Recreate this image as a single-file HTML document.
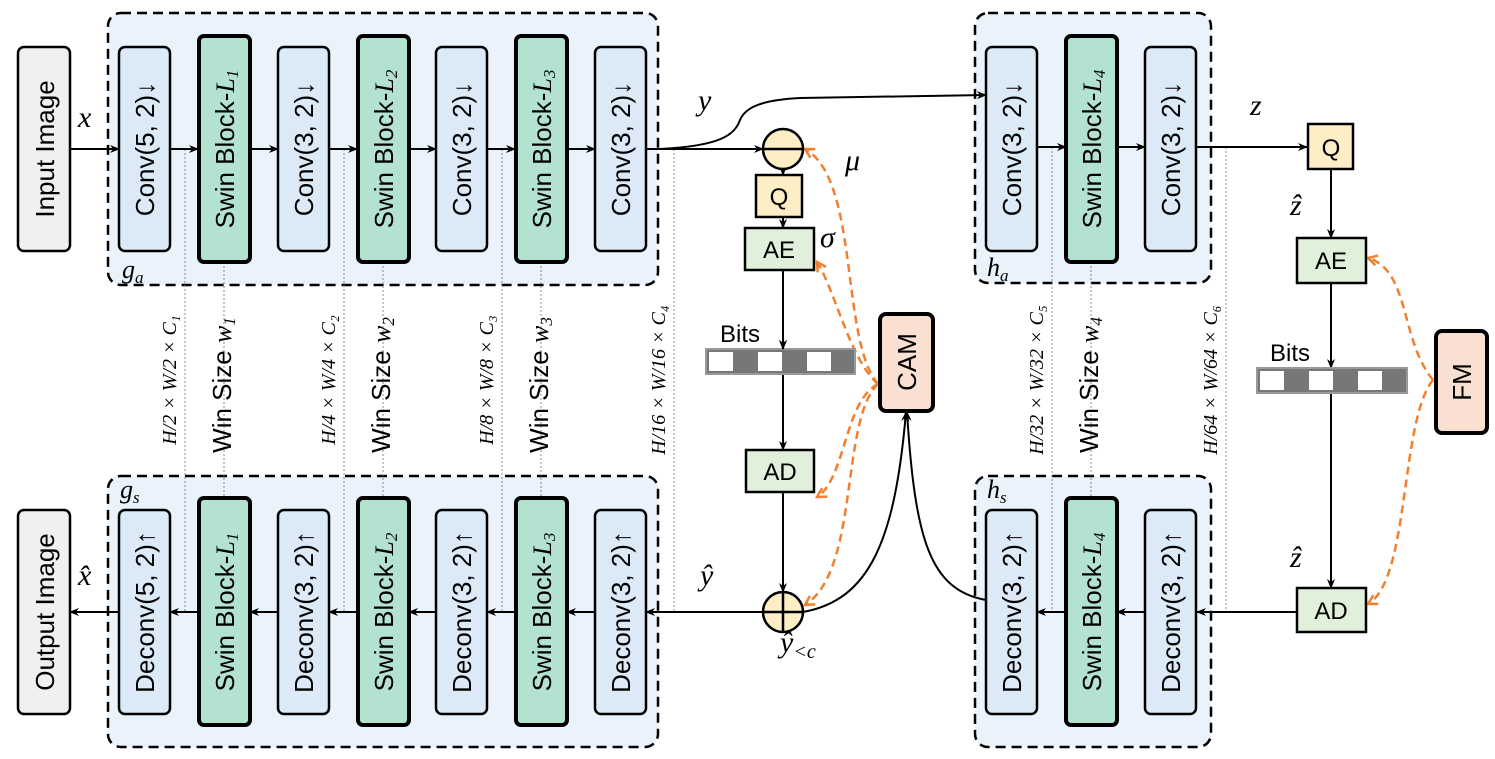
<!DOCTYPE html>
<html><head><meta charset="utf-8"><style>
html,body{margin:0;padding:0;background:#fff}
svg{display:block}
.s{font-family:"Liberation Sans",sans-serif}
.m{font-family:"Liberation Serif",serif;font-style:italic}
</style></head><body>
<svg width="1495" height="759" viewBox="0 0 1495 759" xmlns="http://www.w3.org/2000/svg">
<defs>
<marker id="a" markerWidth="10" markerHeight="10" refX="9" refY="5" orient="auto" markerUnits="userSpaceOnUse"><path d="M0,1 L10,5 L0,9 L3,5 z" fill="#000"/></marker>
<marker id="o" markerWidth="12" markerHeight="12" refX="10" refY="6" orient="auto" markerUnits="userSpaceOnUse"><path d="M1,1 L10,6 L1,11" fill="none" stroke="#f08030" stroke-width="2.5"/></marker>
</defs>
<g fill="#eaf2fb" stroke="#000" stroke-width="2.5" stroke-dasharray="10,6">
<rect x="108" y="13" width="550" height="272" rx="13"/>
<rect x="108" y="476" width="550" height="271" rx="13"/>
<rect x="975" y="13" width="236" height="270" rx="13"/>
<rect x="975" y="476" width="236" height="271" rx="13"/>
</g>
<g stroke="#888" stroke-width="1" stroke-dasharray="2,2" fill="none">
<line x1="185" y1="149" x2="185" y2="612"/><line x1="224" y1="262" x2="224" y2="497"/>
<line x1="344" y1="149" x2="344" y2="612"/><line x1="383" y1="262" x2="383" y2="497"/>
<line x1="502" y1="149" x2="502" y2="612"/><line x1="541" y1="262" x2="541" y2="497"/>
<line x1="674" y1="149" x2="674" y2="612"/>
<line x1="1052" y1="147" x2="1052" y2="612"/><line x1="1091" y1="262" x2="1091" y2="497"/>
<line x1="1226" y1="147" x2="1226" y2="612"/>
</g>
<g stroke="#000" stroke-width="2" fill="none" marker-end="url(#a)">
<line x1="70" y1="149" x2="119" y2="149"/>
<line x1="170" y1="149" x2="198" y2="149"/>
<line x1="250" y1="149" x2="278" y2="149"/>
<line x1="329" y1="149" x2="357" y2="149"/>
<line x1="409" y1="149" x2="436" y2="149"/>
<line x1="487" y1="149" x2="515" y2="149"/>
<line x1="567" y1="149" x2="595" y2="149"/>
<line x1="646" y1="149" x2="763" y2="149"/>
<path d="M660,149 C720,146 735,135 740,120 C745,108 760,100 800,98 L986,95"/>
<line x1="1037" y1="147" x2="1066" y2="147"/>
<line x1="1117" y1="147" x2="1145" y2="147"/>
<line x1="1197" y1="147" x2="1307" y2="147"/>
<line x1="1331" y1="169" x2="1331" y2="238"/>
<line x1="1331" y1="283" x2="1331" y2="368"/>
<line x1="1331" y1="393" x2="1331" y2="588"/>
<line x1="783" y1="169" x2="783" y2="175"/>
<line x1="783" y1="217" x2="783" y2="228"/>
<line x1="783" y1="270" x2="783" y2="349"/>
<line x1="783" y1="374" x2="783" y2="450"/>
<line x1="783" y1="492" x2="783" y2="592"/>
<line x1="763" y1="612" x2="646" y2="612"/>
<line x1="595" y1="612" x2="567" y2="612"/>
<line x1="515" y1="612" x2="487" y2="612"/>
<line x1="436" y1="612" x2="409" y2="612"/>
<line x1="357" y1="612" x2="329" y2="612"/>
<line x1="278" y1="612" x2="250" y2="612"/>
<line x1="198" y1="612" x2="170" y2="612"/>
<line x1="119" y1="612" x2="70" y2="612"/>
<line x1="1298" y1="612" x2="1197" y2="612"/>
<line x1="1145" y1="612" x2="1117" y2="612"/>
<line x1="1066" y1="612" x2="1037" y2="612"/>
<path d="M803,612 C870,600 895,540 906,412"/>
<path d="M986,600 C930,590 915,540 907,412"/>
</g>
<g stroke="#f08030" stroke-width="2.5" fill="none" stroke-dasharray="8,5" marker-end="url(#o)">
<path d="M878,384 C840,340 860,180 805,149"/>
<path d="M878,384 C850,360 835,290 817,262"/>
<path d="M878,384 C845,400 845,480 817,497"/>
<path d="M878,384 C840,420 860,570 805,605"/>
<path d="M1433,380 C1400,340 1410,270 1368,258"/>
<path d="M1433,380 C1400,420 1410,580 1368,604"/>
</g>
<g stroke="#000" stroke-width="2.5">
<rect x="18" y="47" width="52" height="204" rx="6" fill="#f0f0f0"/>
<rect x="18" y="510" width="52" height="204" rx="6" fill="#f0f0f0"/>
<g fill="#dce9f7">
<rect x="119" y="47" width="51" height="204" rx="6"/><rect x="278" y="47" width="51" height="204" rx="6"/>
<rect x="436" y="47" width="51" height="204" rx="6"/><rect x="595" y="47" width="51" height="204" rx="6"/>
<rect x="119" y="510" width="51" height="204" rx="6"/><rect x="278" y="510" width="51" height="204" rx="6"/>
<rect x="436" y="510" width="51" height="204" rx="6"/><rect x="595" y="510" width="51" height="204" rx="6"/>
<rect x="986" y="47" width="51" height="204" rx="6"/><rect x="1145" y="47" width="51" height="204" rx="6"/>
<rect x="986" y="510" width="51" height="204" rx="6"/><rect x="1145" y="510" width="51" height="204" rx="6"/>
</g>
<g fill="#b3e3d0" stroke-width="4">
<rect x="199" y="36" width="51" height="226" rx="5"/><rect x="358" y="36" width="51" height="226" rx="5"/>
<rect x="516" y="36" width="51" height="226" rx="5"/><rect x="1066" y="36" width="51" height="226" rx="5"/>
<rect x="199" y="498" width="51" height="227" rx="5"/><rect x="358" y="498" width="51" height="227" rx="5"/>
<rect x="516" y="498" width="51" height="227" rx="5"/><rect x="1066" y="498" width="51" height="227" rx="5"/>
</g>
<rect x="756" y="175" width="46" height="42" fill="#fdeec6"/>
<rect x="1308" y="124" width="45" height="45" fill="#fdeec6"/>
<g fill="#e0f0da"><rect x="745" y="228" width="69" height="42"/><rect x="746" y="450" width="68" height="42"/>
<rect x="1297" y="238" width="69" height="45"/><rect x="1297" y="588" width="69" height="44"/></g>
<g fill="#f9e0d3" stroke-width="4"><rect x="880" y="314" width="53" height="97" rx="6"/><rect x="1436" y="331" width="51" height="102" rx="6"/></g>
<circle cx="783" cy="149" r="20" fill="#fdeec6"/><line x1="763" y1="149" x2="803" y2="149"/>
<circle cx="783" cy="612" r="20" fill="#fdeec6"/><line x1="763" y1="612" x2="803" y2="612"/><line x1="783" y1="592" x2="783" y2="632"/>
</g>
<g><rect x="706" y="349" width="149" height="25" fill="#777" stroke="#999" stroke-width="2"/>
<rect x="709" y="352" width="24" height="19" fill="#fff"/><rect x="758" y="352" width="24" height="19" fill="#fff"/><rect x="807" y="352" width="24" height="19" fill="#fff"/>
<rect x="1257" y="368" width="150" height="25" fill="#777" stroke="#999" stroke-width="2"/>
<rect x="1260" y="371" width="24" height="19" fill="#fff"/><rect x="1309" y="371" width="24" height="19" fill="#fff"/><rect x="1358" y="371" width="24" height="19" fill="#fff"/></g>
<g stroke="#000" stroke-width="2" fill="none" marker-end="url(#a)"><line x1="783" y1="330" x2="783" y2="349"/></g>
<g class="s" font-size="26" text-anchor="middle" fill="#000">
<text transform="translate(54,149) rotate(-90)">Input Image</text>
<text transform="translate(54,612) rotate(-90)">Output Image</text>
<text transform="translate(154,149) rotate(-90)">Conv(5, 2)↓</text>
<text transform="translate(313,149) rotate(-90)">Conv(3, 2)↓</text>
<text transform="translate(471,149) rotate(-90)">Conv(3, 2)↓</text>
<text transform="translate(630,149) rotate(-90)">Conv(3, 2)↓</text>
<text transform="translate(1021,149) rotate(-90)">Conv(3, 2)↓</text>
<text transform="translate(1180,149) rotate(-90)">Conv(3, 2)↓</text>
<text transform="translate(154,612) rotate(-90)">Deconv(5, 2)↑</text>
<text transform="translate(313,612) rotate(-90)">Deconv(3, 2)↑</text>
<text transform="translate(471,612) rotate(-90)">Deconv(3, 2)↑</text>
<text transform="translate(630,612) rotate(-90)">Deconv(3, 2)↑</text>
<text transform="translate(1021,612) rotate(-90)">Deconv(3, 2)↑</text>
<text transform="translate(1180,612) rotate(-90)">Deconv(3, 2)↑</text>
<text transform="translate(234,149) rotate(-90)">Swin Block-<tspan class="m">L</tspan><tspan class="m" font-size="17" dy="4">1</tspan></text>
<text transform="translate(393,149) rotate(-90)">Swin Block-<tspan class="m">L</tspan><tspan class="m" font-size="17" dy="4">2</tspan></text>
<text transform="translate(551,149) rotate(-90)">Swin Block-<tspan class="m">L</tspan><tspan class="m" font-size="17" dy="4">3</tspan></text>
<text transform="translate(1101,149) rotate(-90)">Swin Block-<tspan class="m">L</tspan><tspan class="m" font-size="17" dy="4">4</tspan></text>
<text transform="translate(234,612) rotate(-90)">Swin Block-<tspan class="m">L</tspan><tspan class="m" font-size="17" dy="4">1</tspan></text>
<text transform="translate(393,612) rotate(-90)">Swin Block-<tspan class="m">L</tspan><tspan class="m" font-size="17" dy="4">2</tspan></text>
<text transform="translate(551,612) rotate(-90)">Swin Block-<tspan class="m">L</tspan><tspan class="m" font-size="17" dy="4">3</tspan></text>
<text transform="translate(1101,612) rotate(-90)">Swin Block-<tspan class="m">L</tspan><tspan class="m" font-size="17" dy="4">4</tspan></text>
<text transform="translate(916,362) rotate(-90)">CAM</text>
<text transform="translate(1471,382) rotate(-90)">FM</text>
<text transform="translate(231,385) rotate(-90)">Win Size <tspan class="m">w</tspan><tspan class="m" font-size="17" dy="4">1</tspan></text>
<text transform="translate(390,385) rotate(-90)">Win Size <tspan class="m">w</tspan><tspan class="m" font-size="17" dy="4">2</tspan></text>
<text transform="translate(548,385) rotate(-90)">Win Size <tspan class="m">w</tspan><tspan class="m" font-size="17" dy="4">3</tspan></text>
<text transform="translate(1098,385) rotate(-90)">Win Size <tspan class="m">w</tspan><tspan class="m" font-size="17" dy="4">4</tspan></text>
</g>
<g class="m" font-size="20" text-anchor="middle" fill="#000">
<text transform="translate(176,380) rotate(-90)">H/2 × W/2 × C₁</text>
<text transform="translate(335,380) rotate(-90)">H/4 × W/4 × C₂</text>
<text transform="translate(493,380) rotate(-90)">H/8 × W/8 × C₃</text>
<text transform="translate(665,380) rotate(-90)">H/16 × W/16 × C₄</text>
<text transform="translate(1043,380) rotate(-90)">H/32 × W/32 × C₅</text>
<text transform="translate(1217,380) rotate(-90)">H/64 × W/64 × C₆</text>
</g>
<g class="s" font-size="24" text-anchor="middle">
<text x="779" y="205">Q</text><text x="1331" y="156">Q</text>
<text x="779" y="258">AE</text><text x="780" y="480">AD</text>
<text x="1331" y="269">AE</text><text x="1331" y="619">AD</text>
<text x="740" y="342">Bits</text><text x="1290" y="361">Bits</text>
</g>
<g class="m" font-size="30" fill="#000">
<text x="78" y="127">x</text><text x="698" y="110">y</text><text x="1250" y="115">z</text>
<text x="845" y="170">μ</text><text x="820" y="247">σ</text>
<text x="700" y="585">ŷ</text><text x="78" y="585">x̂</text>
<text x="1290" y="215">ẑ</text><text x="1290" y="567">ẑ</text>
<text x="780" y="652">ŷ<tspan font-size="20" dy="6">&lt;c</tspan></text>
<text x="122" y="278" font-size="26">g<tspan font-size="17" dy="5">a</tspan></text>
<text x="120" y="498" font-size="26">g<tspan font-size="17" dy="5">s</tspan></text>
<text x="987" y="276" font-size="26">h<tspan font-size="17" dy="5">a</tspan></text>
<text x="987" y="498" font-size="26">h<tspan font-size="17" dy="5">s</tspan></text>
</g>
</svg>
</body></html>
